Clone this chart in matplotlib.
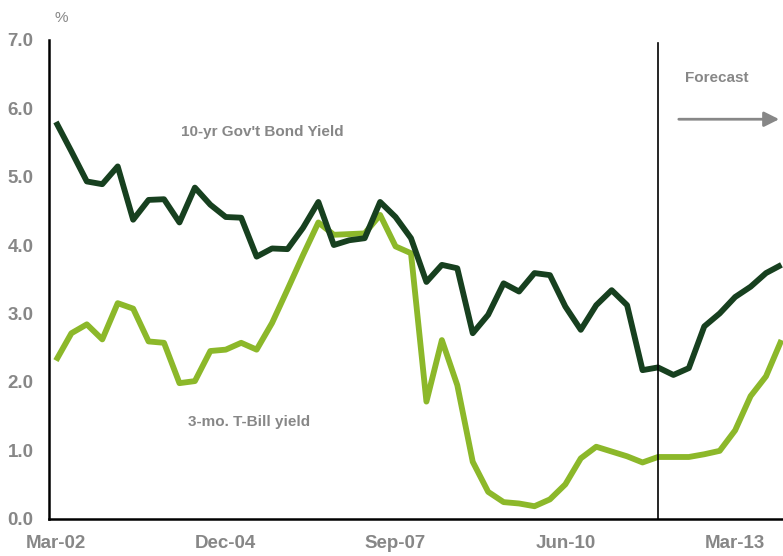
import matplotlib

matplotlib.use("Agg")
import matplotlib.pyplot as plt

# Quarterly yields, Mar-02 .. Dec-13 (forecast from Dec-11)
quarters = list(range(48))
bond_10yr = [5.80, 5.37, 4.93, 4.89, 5.15, 4.37, 4.66, 4.67, 4.33, 4.84,
             4.59, 4.41, 4.40, 3.83, 3.95, 3.94, 4.25, 4.63, 4.00, 4.07,
             4.10, 4.63, 4.41, 4.10, 3.46, 3.71, 3.66, 2.71, 2.98, 3.44,
             3.32, 3.59, 3.56, 3.10, 2.76, 3.12, 3.34, 3.12, 2.17, 2.21,
             2.10, 2.20, 2.81, 3.00, 3.24, 3.39, 3.59, 3.71]
tbill_3mo = [2.31, 2.71, 2.84, 2.62, 3.15, 3.07, 2.59, 2.57, 1.98, 2.01,
             2.45, 2.47, 2.57, 2.47, 2.86, 3.35, 3.85, 4.33, 4.15, 4.16,
             4.17, 4.44, 3.98, 3.88, 1.71, 2.61, 1.95, 0.83, 0.39, 0.24,
             0.22, 0.18, 0.28, 0.50, 0.88, 1.05, 0.98, 0.91, 0.82, 0.90,
             0.90, 0.90, 0.94, 0.99, 1.29, 1.79, 2.08, 2.61]
tick_pos = [0, 11, 22, 33, 44]
tick_labels = ["Mar-02", "Dec-04", "Sep-07", "Jun-10", "Mar-13"]
y_ticks = [0, 1, 2, 3, 4, 5, 6, 7]
forecast_start = 39

GRAY = "#878787"
DARK = "#17401f"
LIGHT = "#8cb82a"

plt.rcParams["font.family"] = ["Liberation Sans", "DejaVu Sans"]

fig = plt.figure(figsize=(7.83, 5.56), dpi=100)
ax = fig.add_axes([0.0626, 0.0674, 0.9374, 0.8608])

ax.plot(quarters, tbill_3mo, color=LIGHT, lw=4.2, solid_joinstyle="round",
        solid_capstyle="butt", zorder=3)
ax.plot(quarters, bond_10yr, color=DARK, lw=4.2, solid_joinstyle="round",
        solid_capstyle="butt", zorder=4)

ax.plot([forecast_start, forecast_start], [0, 6.95], color="black", lw=1.2,
        zorder=5)

ax.set_xlim(-0.45, 47.1)
ax.set_ylim(0, 7)
ax.set_xticks(tick_pos)
ax.set_xticklabels(tick_labels)
ax.set_yticks(y_ticks)
ax.set_yticklabels([f"{v:.1f}" for v in y_ticks])
ax.tick_params(length=0, labelsize=13.5, labelcolor=GRAY)
for lab in ax.get_xticklabels() + ax.get_yticklabels():
    lab.set_fontweight("bold")
ax.tick_params(axis="y", pad=11)
ax.tick_params(axis="x", pad=12)

for side in ("top", "right"):
    ax.spines[side].set_visible(False)
for side in ("left", "bottom"):
    ax.spines[side].set_linewidth(1.8)
    ax.spines[side].set_color("black")
ax.spines["left"].set_bounds(0, 7)

ax.text(8.1, 5.66, "10-yr Gov't Bond Yield", color=GRAY, fontsize=11,
        fontweight="bold", va="center")
ax.text(8.55, 1.41, "3-mo. T-Bill yield", color=GRAY, fontsize=11,
        fontweight="bold", va="center")
ax.text(40.75, 6.44, "Forecast", color=GRAY, fontsize=11,
        fontweight="bold", va="center")
ax.annotate("", xy=(46.85, 5.84), xytext=(40.35, 5.84),
            arrowprops=dict(arrowstyle="-|>,head_length=0.9,head_width=0.45",
                            color=GRAY, lw=2, shrinkA=0, shrinkB=0))

fig.text(0.070, 0.967, "%", color=GRAY, fontsize=11, va="center")

fig.savefig("out.png", dpi=100)
